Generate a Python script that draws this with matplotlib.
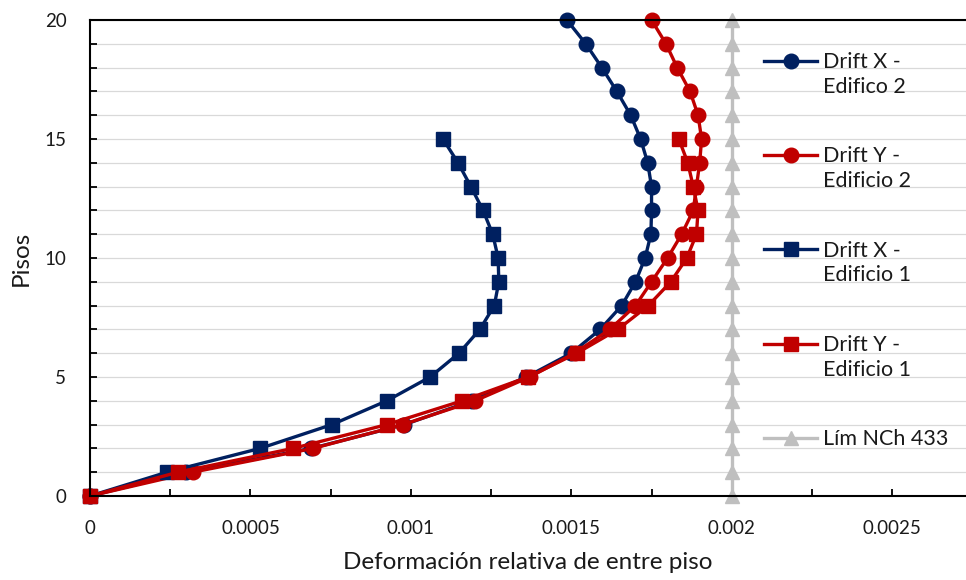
import matplotlib
matplotlib.use("Agg")
import matplotlib.pyplot as plt
from matplotlib.ticker import MultipleLocator
import numpy as np

plt.rcParams["font.family"] = ["Lato", "DejaVu Sans"]

# ── datos ─────────────────────────────────────────────
pisos_ed2 = list(range(21))
pisos_ed1 = list(range(16))

drift_x_ed2 = [0, 0.00030, 0.00069, 0.00098, 0.00119, 0.00136, 0.00150, 0.00159, 0.001657,
               0.00170, 0.00173, 0.001748, 0.00175, 0.00175, 0.001738, 0.001716, 0.001685,
               0.001642, 0.001595, 0.001545, 0.001486]
drift_y_ed2 = [0, 0.00032, 0.000695, 0.000975, 0.00120, 0.00137, 0.00151, 0.00162, 0.00170,
               0.00175, 0.00180, 0.001844, 0.00188, 0.00189, 0.00190, 0.001906, 0.001895,
               0.00187, 0.00183, 0.001795, 0.00175]
drift_x_ed1 = [0, 0.00024, 0.00053, 0.000754, 0.000925, 0.00106, 0.00115, 0.001215, 0.00126,
               0.001274, 0.001272, 0.001255, 0.001225, 0.001187, 0.001147, 0.00110]
drift_y_ed1 = [0, 0.000274, 0.000633, 0.000925, 0.00116, 0.001365, 0.001517, 0.001645, 0.00174,
               0.00181, 0.00186, 0.00189, 0.001895, 0.00188, 0.001863, 0.001835]
lim_nch433 = [0.002, 0.002, 0.002, 0.002, 0.002, 0.002, 0.002, 0.002, 0.002, 0.002, 0.002,
              0.002, 0.002, 0.002, 0.002, 0.002, 0.002, 0.002, 0.002, 0.002, 0.002]

labels = ["Drift X -\nEdifico 2", "Drift Y -\nEdificio 2", "Drift X -\nEdificio 1",
          "Drift Y -\nEdificio 1", "Lím NCh 433"]

NAVY = "#002060"
RED = "#C00000"
GRAY = "#BFBFBF"

fig = plt.figure(figsize=(9.66, 5.8), dpi=100)
ax = fig.add_axes([90 / 966, 1 - 496 / 580, 876 / 966, 476 / 580])

kw = dict(linewidth=2.4, markersize=10.5, clip_on=False)
ax.plot(drift_x_ed2, pisos_ed2, color=NAVY, marker="o", label=labels[0], **kw)
ax.plot(drift_y_ed2, pisos_ed2, color=RED, marker="o", label=labels[1], **kw)
ax.plot(drift_x_ed1, pisos_ed1, color=NAVY, marker="s", label=labels[2], **kw)
ax.plot(drift_y_ed1, pisos_ed1, color=RED, marker="s", label=labels[3], **kw)
ax.plot(lim_nch433, pisos_ed2, color=GRAY, marker="^", label=labels[4], **kw)

ax.set_xlim(0, 0.00273)
ax.set_ylim(0, 20)
ax.xaxis.set_minor_locator(MultipleLocator(0.00025))
ax.yaxis.set_major_locator(MultipleLocator(5))
ax.yaxis.set_minor_locator(MultipleLocator(1))
ax.set_xticks([0, 0.0005, 0.001, 0.0015, 0.002, 0.0025])
ax.set_xticklabels(["0", "0.0005", "0.001", "0.0015", "0.002", "0.0025"])

ax.tick_params(which="both", direction="in", length=5, width=1.3, color="black",
               labelsize=13.5, labelcolor="#1a1a1a", pad=17)
ax.grid(True, which="both", axis="y", color="#D9D9D9", linewidth=0.9)
ax.set_axisbelow(True)

for side in ["left", "bottom", "top"]:
    ax.spines[side].set_linewidth(1.5)
    ax.spines[side].set_color("black")
ax.spines["right"].set_visible(False)

ax.set_xlabel("Deformación relativa de entre piso", fontsize=17.5, color="#1a1a1a", labelpad=11)
ax.set_ylabel("Pisos", fontsize=17.5, color="#1a1a1a", labelpad=9)

leg = ax.legend(loc="upper left", bbox_to_anchor=(0.769, 0.933), frameon=False,
                fontsize=15.5, handlelength=2.5, handletextpad=0.25, labelspacing=2.3,
                borderpad=0, borderaxespad=0)
for t in leg.get_texts():
    t.set_linespacing(1.3)
    t.set_color("#1a1a1a")
# poner el simbolo a la altura de la primera linea del texto
for h in leg.legend_handles[:4]:
    h.set_ydata(np.asarray(h.get_ydata()) + 10)

fig.savefig("out.png", dpi=100)
